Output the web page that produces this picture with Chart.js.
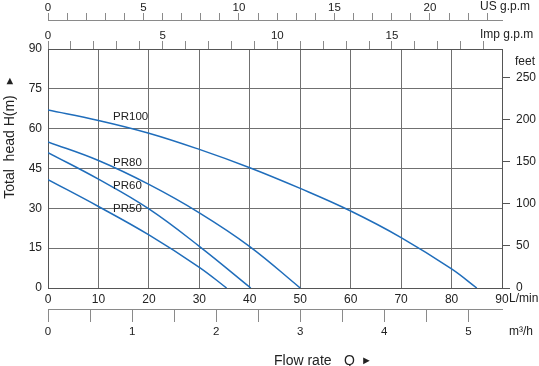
<!DOCTYPE html>
<html>
<head>
<meta charset="utf-8">
<script src="https://cdn.jsdelivr.net/npm/chart.js@4.4.1/dist/chart.umd.min.js"></script>
<style>
  html, body { margin: 0; padding: 0; background: #fff; }
  #wrap { width: 539px; height: 366px; }
</style>
</head>
<body>
<div id="wrap"><canvas id="pump-chart"></canvas></div>
<script>
// flow in L/min, head in m
const pr100Flow = [0, 10, 20, 30, 40, 50, 60, 70, 80, 85];
const pr100Head = [67, 63.1, 58.3, 52.2, 45.3, 37.5, 29, 19, 7.2, 0];
const pr80Flow = [0, 10, 20, 30, 40, 50];
const pr80Head = [55, 48, 39, 28.3, 15.6, 0];
const pr60Flow = [0, 10, 20, 30, 40.2];
const pr60Head = [51, 41, 29.8, 15.7, 0];
const pr50Flow = [0, 10, 20, 30, 35.4];
const pr50Head = [40.8, 30.7, 20, 7.8, 0];

const curveNames = ['PR100', 'PR80', 'PR60', 'PR50'];
// where each name is written (L/min, m)
const nameFlow = [12.9, 12.9, 12.9, 12.9];
const nameHead = [64.4, 47.1, 38.4, 29.7];

// axis ranges
const flowMax = 90;          // L/min
const headMax = 90;          // m
const feetMax = 284;         // right hand scale as printed
const usGpmMax = flowMax / 3.78541;
const impGpmMax = flowMax / 4.54609;
const m3hMax = flowMax * 60 / 1000;

const FONT = "'Liberation Sans', Arial, sans-serif";
const INK = '#222';
const GRID = '#707070';
const EDGE = '#555';
const LIGHT = '#8a8a8a';
const BLUE = '#1f6dbb';

function pts(xs, ys) {
    return xs.map((x, i) => ({ x: x, y: ys[i] }));
}

function curve(xs, ys) {
    return {
        data: pts(xs, ys),
        showLine: true,
        borderColor: BLUE,
        borderWidth: 1.5,
        pointRadius: 0,
        tension: 0.4,
        xAxisID: 'x',
        yAxisID: 'y'
    };
}

// texts that are not tick labels: curve names, units, axis titles
const extraText = {
    id: 'extraText',
    afterDraw(chart) {
        const ctx = chart.ctx;
        const { x, y, us, imp, m3 } = chart.scales;
        ctx.save();
        ctx.fillStyle = INK;
        ctx.textBaseline = 'middle';
        ctx.textAlign = 'left';

        ctx.font = `11.5px ${FONT}`;
        curveNames.forEach((name, i) => {
            ctx.fillText(name, x.getPixelForValue(nameFlow[i]), y.getPixelForValue(nameHead[i]));
        });

        ctx.font = `12px ${FONT}`;
        ctx.fillText('US g.p.m', 480, us.top + 7);
        ctx.fillText('Imp g.p.m', 480, imp.top + 15);
        ctx.fillText('feet', 515, 62);
        ctx.fillText('L/min', x.right + 7, x.top + 11);
        ctx.fillText('m\u00b3/h', 509, m3.top + 23);

        ctx.font = `14px ${FONT}`;
        ctx.fillText('Flow rate', 274, 361);
        ctx.fillText('Q', 344, 361);
        ctx.font = `11px ${FONT}`;
        ctx.fillText('\u25ba', 361, 361);

        // vertical title
        ctx.translate(10, 0);
        ctx.rotate(-Math.PI / 2);
        ctx.textAlign = 'center';
        ctx.font = `14px ${FONT}`;
        ctx.fillText('Total  head H(m)', -147, 0);
        ctx.font = `11px ${FONT}`;
        ctx.fillText('\u25ba', -81, 0);
        ctx.restore();
    }
};

const tickFont = { family: FONT, size: 12 };
const smallFont = { family: FONT, size: 11.5 };

new Chart(document.getElementById('pump-chart'), {
    type: 'scatter',
    data: {
        datasets: [
            curve(pr100Flow, pr100Head),
            curve(pr80Flow, pr80Head),
            curve(pr60Flow, pr60Head),
            curve(pr50Flow, pr50Head)
        ]
    },
    options: {
        responsive: true,
        maintainAspectRatio: false,
        animation: false,
        layout: { padding: 0 },
        plugins: { legend: { display: false }, tooltip: { enabled: false } },
        scales: {
            x: {
                type: 'linear', position: 'bottom', weight: 0,
                min: 0, max: flowMax,
                ticks: { stepSize: 10, color: INK, font: tickFont, padding: 4, maxRotation: 0, autoSkip: false },
                grid: { color: GRID, drawTicks: false },
                border: { color: EDGE },
                afterFit: s => { s.height = 21; }
            },
            m3: {
                type: 'linear', position: 'bottom', weight: 1,
                min: 0, max: m3hMax,
                ticks: {
                    stepSize: 0.5, includeBounds: false, maxTicksLimit: 100, color: INK, font: smallFont,
                    padding: 3, maxRotation: 0, autoSkip: false,
                    callback: v => Number.isInteger(v) ? v : ''
                },
                grid: { drawOnChartArea: false, color: LIGHT, tickLength: 13 },
                border: { color: LIGHT },
                afterFit: s => { s.height = 57; }
            },
            imp: {
                type: 'linear', position: 'top', weight: 0,
                min: 0, max: impGpmMax,
                ticks: {
                    stepSize: 1, includeBounds: false, maxTicksLimit: 100, color: INK, font: smallFont,
                    padding: -2, maxRotation: 0, autoSkip: false,
                    callback: v => v % 5 === 0 ? v : ''
                },
                grid: { drawOnChartArea: false, color: LIGHT, tickLength: 8 },
                border: { color: EDGE },
                afterFit: s => { s.height = 29; }
            },
            us: {
                type: 'linear', position: 'top', weight: 1,
                min: 0, max: usGpmMax,
                ticks: {
                    stepSize: 1, includeBounds: false, maxTicksLimit: 100, color: INK, font: smallFont,
                    padding: -2, maxRotation: 0, autoSkip: false,
                    callback: v => v % 5 === 0 ? v : ''
                },
                grid: { drawOnChartArea: false, color: LIGHT, tickLength: 7 },
                border: { color: LIGHT },
                afterFit: s => { s.height = 20; }
            },
            y: {
                type: 'linear', position: 'left',
                min: 0, max: headMax,
                ticks: { stepSize: 15, color: INK, font: tickFont, padding: 6 },
                grid: { color: GRID, drawTicks: false },
                border: { color: EDGE },
                afterFit: s => { s.width = 48; }
            },
            feet: {
                type: 'linear', position: 'right',
                min: 0, max: feetMax,
                ticks: { stepSize: 50, includeBounds: false, color: INK, font: tickFont, padding: 6 },
                grid: { drawOnChartArea: false, color: EDGE, tickLength: 8 },
                border: { color: EDGE },
                afterFit: s => { s.width = 37; }
            }
        }
    },
    plugins: [extraText]
});
</script>
</body>
</html>
